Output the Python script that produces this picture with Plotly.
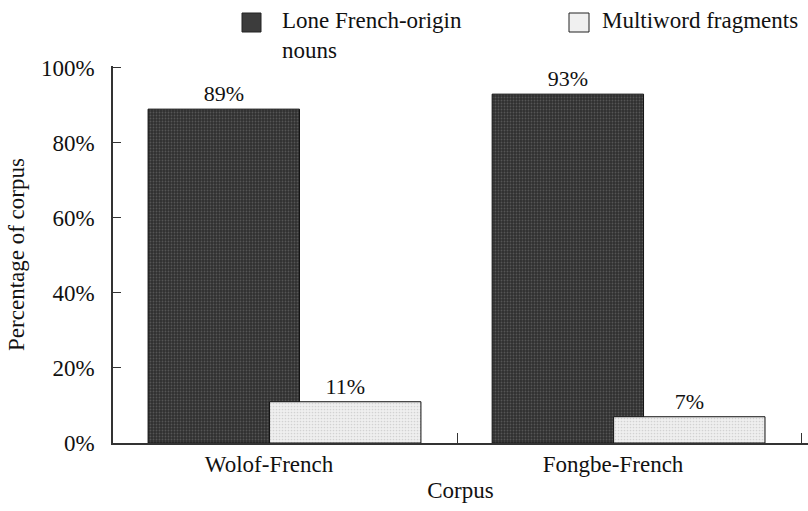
import plotly.graph_objects as go

categories = ["Wolof-French", "Fongbe-French"]
series_names = ["Lone French-origin<br>nouns", "Multiword fragments"]
lone_nouns = [89, 93]
multiword = [11, 7]
y_ticks = [0, 20, 40, 60, 80, 100]
y_tick_labels = ["0%", "20%", "40%", "60%", "80%", "100%"]

FONT = "Liberation Serif"
W, H = 808, 511
ML, MR, MT, MB = 113, 0, 66, 68
PW, PH = W - ML - MR, H - MT - MB


def px_x(p):
    return (p - ML) / PW


def px_y(p):
    return (H - MB - p) / PH


fig = go.Figure()
fig.add_trace(go.Bar(
    x=categories, y=lone_nouns, name="Lone French-origin nouns",
    offset=-0.398, width=0.44,
    marker=dict(color="#333333", line=dict(color="#111111", width=1),
                pattern=dict(shape=".", fgcolor="#7a7a7a", bgcolor="#303030",
                             size=3, solidity=0.3)),
    texttemplate="%{y}%", textposition="outside",
    textfont=dict(family=FONT, size=22, color="#111111"),
    cliponaxis=False, showlegend=False,
))
fig.add_trace(go.Bar(
    x=categories, y=multiword, name="Multiword fragments",
    offset=-0.045, width=0.44,
    marker=dict(color="#eeeeee", line=dict(color="#111111", width=1),
                pattern=dict(shape=".", fgcolor="#b5b5b5", bgcolor="#efefef",
                             size=3, solidity=0.25)),
    texttemplate="%{y}%", textposition="outside",
    textfont=dict(family=FONT, size=22, color="#111111"),
    cliponaxis=False, showlegend=False,
))

# manual legend
shapes = [
    dict(type="rect", xref="paper", yref="paper",
         x0=px_x(242), x1=px_x(261), y0=px_y(32), y1=px_y(13),
         fillcolor="#3c3c3c", line=dict(color="#222222", width=1)),
    dict(type="rect", xref="paper", yref="paper",
         x0=px_x(569), x1=px_x(589), y0=px_y(32), y1=px_y(13),
         fillcolor="#f0f0f0", line=dict(color="#222222", width=1)),
]
annotations = [
    dict(text=series_names[0], xref="paper", yref="paper",
         x=px_x(280), y=px_y(6), xanchor="left", yanchor="top",
         showarrow=False, align="left",
         font=dict(family=FONT, size=23, color="#111111")),
    dict(text=series_names[1], xref="paper", yref="paper",
         x=px_x(600), y=px_y(6), xanchor="left", yanchor="top",
         showarrow=False, align="left",
         font=dict(family=FONT, size=23, color="#111111")),
]

fig.update_layout(
    width=W, height=H,
    margin=dict(l=ML, r=MR, t=MT, b=MB, autoexpand=False),
    barmode="overlay",
    plot_bgcolor="white", paper_bgcolor="white",
    font=dict(family=FONT, size=23, color="#111111"),
    shapes=shapes, annotations=annotations,
    showlegend=False,
)
fig.update_xaxes(
    range=[-0.5, 1.52], showline=True, linecolor="#333333", linewidth=1.5,
    ticks="inside", tickson="boundaries", ticklen=10, tickcolor="#333333",
    showgrid=False, ticklabelshift=-16, automargin=False,
    tickfont=dict(family=FONT, size=23),
    title=dict(text="Corpus", font=dict(family=FONT, size=23), standoff=6),
)
fig.update_yaxes(
    range=[0, 100.5], tickmode="array", tickvals=y_ticks, ticktext=y_tick_labels,
    showline=True, linecolor="#333333", linewidth=1.5,
    ticks="inside", ticklen=8, tickcolor="#333333",
    showgrid=False, zeroline=False, ticklabelstandoff=12, automargin=False,
    tickfont=dict(family=FONT, size=23),
    title=dict(text="Percentage of corpus", font=dict(family=FONT, size=23), standoff=10),
)

fig.write_html(
    "out.html",
    config={"displayModeBar": False},
    post_script="document.body.style.margin='0px';document.body.style.padding='0px';",
)
